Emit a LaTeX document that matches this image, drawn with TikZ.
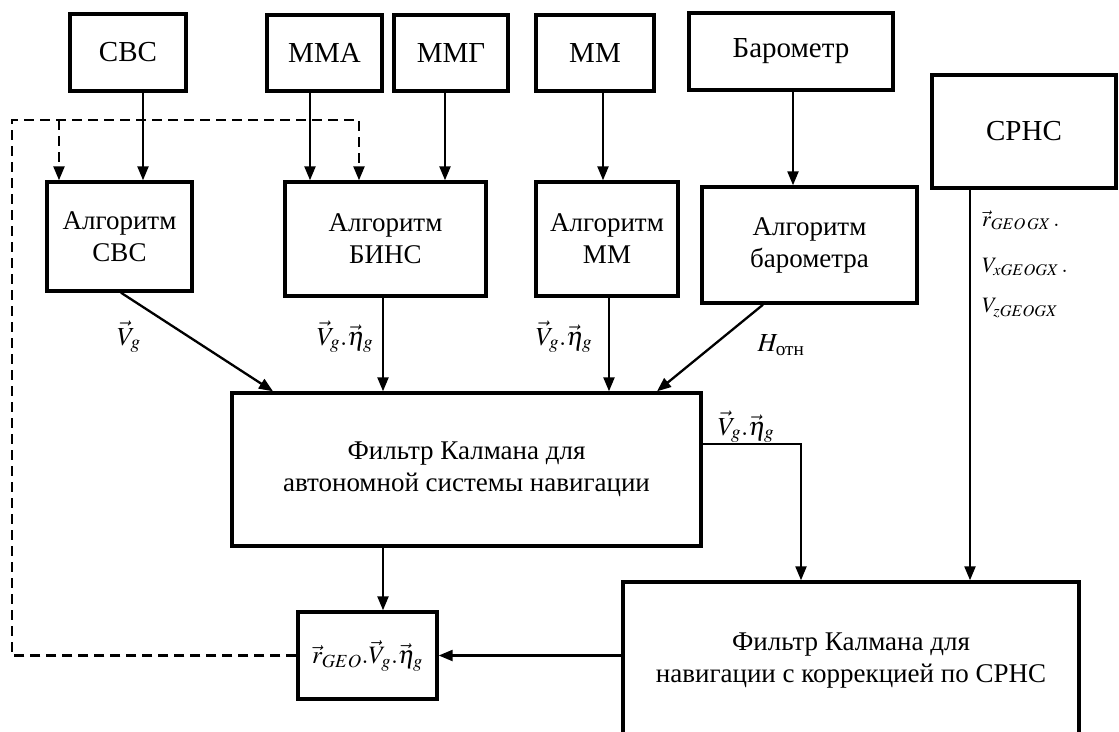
\documentclass[tikz,border=0pt]{standalone}
\usepackage{amsmath}
\usepackage{mathptmx}
\usepackage{fontspec}
\setmainfont{Liberation Serif}
\usetikzlibrary{arrows.meta}

\begin{document}
\begin{tikzpicture}[x=1pt,y=-1pt,
    box/.style={draw,line width=3.4pt,inner sep=0pt,align=center,font=\fontsize{27}{32}\selectfont},
    sensor/.style={box,font=\fontsize{29}{34}\selectfont},
    arr/.style={-{Triangle[length=14pt,width=11pt]},line width=2.3pt},
    dasharr/.style={arr,dash pattern=on 10pt off 6pt},
    lbl/.style={font=\fontsize{26}{30}\selectfont,inner sep=0pt},
    slbl/.style={font=\fontsize{22}{26}\selectfont,inner sep=0pt,anchor=west}]
    \clip (0,0) rectangle (1119,731);

    % sensors
    \node[sensor,minimum width=116pt,minimum height=77pt] (cbc) at (128,52.5) {СВС};
    \node[sensor,minimum width=115pt,minimum height=76pt] (mma) at (324.5,53) {ММА};
    \node[sensor,minimum width=114pt,minimum height=76pt] (mmg) at (451,53) {ММГ};
    \node[sensor,minimum width=118pt,minimum height=76pt] (mm) at (595,53) {ММ};
    \node[sensor,minimum width=204pt,minimum height=77pt] (baro) at (791,51.5) {Барометр};
    \node[sensor,minimum width=184pt,minimum height=113pt] (srns) at (1024,131.5) {СРНС};

    % algorithms
    \node[box,minimum width=145pt,minimum height=109pt] (algcbc) at (119.5,236.5) {Алгоритм\\СВС};
    \node[box,minimum width=201pt,minimum height=114pt] (algbins) at (385.5,239) {Алгоритм\\БИНС};
    \node[box,minimum width=142pt,minimum height=114pt] (algmm) at (607,239) {Алгоритм\\ММ};
    \node[box,minimum width=215pt,minimum height=116pt] (algbaro) at (809.5,245) {Алгоритм\\барометра};

    % filters
    \node[box,minimum width=469pt,minimum height=153pt] (kf1) at (466.5,469.5)
        {Фильтр Калмана для\\автономной системы навигации};
    \node[box,minimum width=456pt,minimum height=158pt] (kf2) at (851,661)
        {Фильтр Калмана для\\навигации с коррекцией по СРНС};
    \node[box,minimum width=139pt,minimum height=87pt,font=\fontsize{25}{30}\selectfont] (rgeo) at (367.5,655.5)
        {$\vec{r}_{GEO}{.}\vec{V}_g{.}\vec{\eta}_g$};

    % sensor inputs
    \draw[arr] (143,0 |- cbc.south) -- (143,0 |- algcbc.north);
    \draw[arr] (310,0 |- mma.south) -- (310,0 |- algbins.north);
    \draw[arr] (445,0 |- mmg.south) -- (445,0 |- algbins.north);
    \draw[arr] (603,0 |- mm.south) -- (603,0 |- algmm.north);
    \draw[arr] (793,0 |- baro.south) -- (793,0 |- algbaro.north);

    % into the autonomous filter
    \draw[arr] (121,0 |- algcbc.south) -- (273,0 |- kf1.north);
    \draw[arr] (383,0 |- algbins.south) -- (383,0 |- kf1.north);
    \draw[arr] (609,0 |- algmm.south) -- (609,0 |- kf1.north);
    \draw[arr] (763,0 |- algbaro.south) -- (657,0 |- kf1.north);

    \node[lbl] (lv) at (129,337) {$\vec{V}_g$};
    \node[lbl] (lvb) at (345,337) {$\vec{V}_g{.}\vec{\eta}_g$};
    \node[lbl] (lvm) at (564,337) {$\vec{V}_g{.}\vec{\eta}_g$};
    \node[lbl] (lh) at (781,345) {$H_{\text{отн}}$};

    % outputs
    \draw[arr] (383,0 |- kf1.south) -- (383,0 |- rgeo.north);
    \draw[arr] (kf1.east |- 0,444) -- (801,444) -- (801,0 |- kf2.north);
    \node[lbl] (lvk) at (746,427) {$\vec{V}_g{.}\vec{\eta}_g$};
    \draw[arr] (970,0 |- srns.south) -- (970,0 |- kf2.north);
    \node[slbl] (lr) at (982,220) {$\vec{r}_{GEO\,GX}\,{.}$};
    \node[slbl] (lvx) at (982,267) {$V_{xGEOGX}\,{.}$};
    \node[slbl] (lvz) at (982,308) {$V_{zGEOGX}$};
    \draw[arr] (kf2.west |- rgeo.east) -- (rgeo.east);

    % feedback
    \draw[dasharr] (rgeo.west) -- (12,0 |- rgeo.west) -- (12,120) -- (359,120) -- (359,0 |- algbins.north);
    \draw[dasharr] (59,120) -- (59,0 |- algcbc.north);
\end{tikzpicture}
\end{document}
